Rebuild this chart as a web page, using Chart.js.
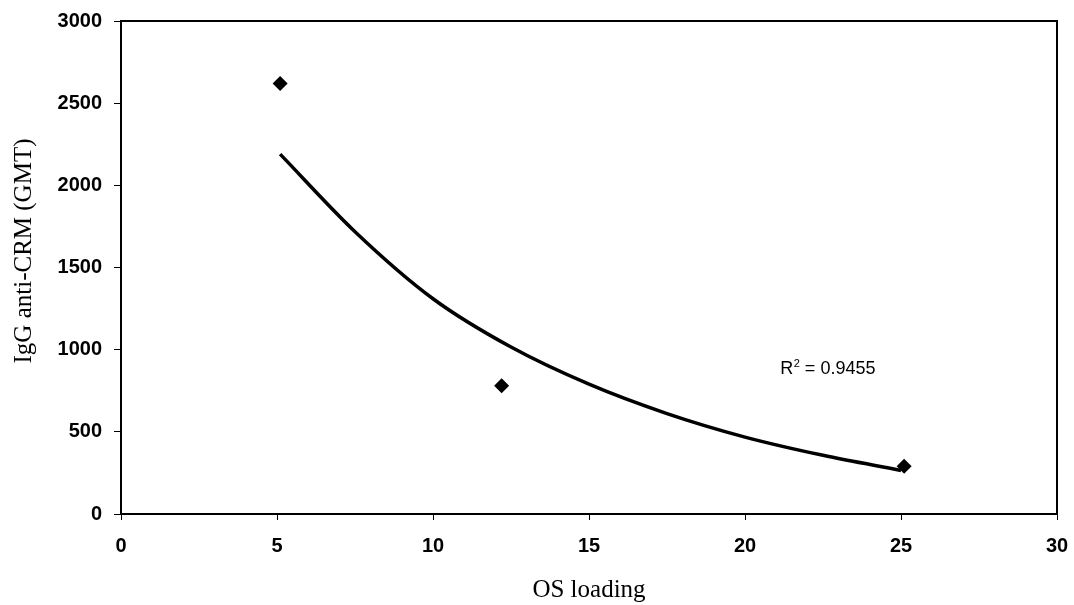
<!DOCTYPE html>
<html><head><meta charset="utf-8">
<script src="https://cdn.jsdelivr.net/npm/chart.js@4"></script>
<style>html,body{margin:0;padding:0;background:#fff;}#wrap{width:1074px;height:605px;position:relative;}</style>
</head><body><div id="wrap"><canvas id="c" width="1074" height="605"></canvas></div>
<script>
// Observed data points
const osLoading = [5.1, 12.2, 25.1];
const iggGMT = [2620, 780, 290];
// Trend curve
const trendX = [5.1, 7.5, 10, 12.5, 15, 17.5, 20, 22.5, 25];
const trendY = [2190, 1718, 1310, 1016, 790, 611, 468, 357, 265];
// Tick labels
const xTicks = [0, 5, 10, 15, 20, 25, 30];
const yTicks = [0, 500, 1000, 1500, 2000, 2500, 3000];
const xTitle = 'OS loading';
const yTitle = 'IgG anti-CRM (GMT)';
const r2Text = '0.9455';
const r2Pos = [21.13, 850];

const pts = osLoading.map((x, i) => ({x: x, y: iggGMT[i]}));
const trend = trendX.map((x, i) => ({x: x, y: trendY[i]}));

const tickFont = {family: '"Liberation Sans", Arial, sans-serif', size: 20, weight: 'bold'};
const titleFont = {family: '"Liberation Serif", "Times New Roman", serif', size: 25, weight: 'normal'};

const framePlugin = {
  id: 'frame',
  afterDraw(chart) {
    const {ctx, chartArea: a, scales} = chart;
    ctx.save();
    ctx.strokeStyle = '#000';
    ctx.lineWidth = 2;
    ctx.beginPath();
    ctx.moveTo(a.left, a.top);
    ctx.lineTo(a.right, a.top);
    ctx.lineTo(a.right, a.bottom);
    ctx.stroke();
    // y axis title (drawn slightly above the plot centre, as in the original)
    ctx.fillStyle = '#000';
    ctx.font = '25px "Liberation Serif", "Times New Roman", serif';
    ctx.textAlign = 'center';
    ctx.textBaseline = 'middle';
    ctx.translate(24, 251);
    ctx.rotate(-Math.PI / 2);
    ctx.fillText(yTitle, 0, 0);
    ctx.setTransform(1, 0, 0, 1, 0, 0);
    // R² annotation
    const px = scales.x.getPixelForValue(r2Pos[0]);
    const py = scales.y.getPixelForValue(r2Pos[1]);
    ctx.textBaseline = 'alphabetic';
    ctx.textAlign = 'left';
    ctx.font = '18px "Liberation Sans", Arial, sans-serif';
    ctx.fillText('R', px, py);
    let w = ctx.measureText('R').width;
    ctx.font = '11px "Liberation Sans", Arial, sans-serif';
    ctx.fillText('2', px + w + 0.5, py - 7);
    w += ctx.measureText('2').width + 0.5;
    ctx.font = '18px "Liberation Sans", Arial, sans-serif';
    ctx.fillText(' = ' + r2Text, px + w, py);
    ctx.restore();
  }
};

new Chart(document.getElementById('c'), {
  type: 'scatter',
  data: {
    datasets: [
      {
        label: 'trend',
        type: 'line',
        data: trend,
        borderColor: '#000',
        borderWidth: 3.5,
        pointRadius: 0,
        fill: false,
        cubicInterpolationMode: 'monotone',
        order: 2
      },
      {
        label: 'IgG anti-CRM',
        data: pts,
        pointStyle: 'rectRot',
        pointRadius: 7.5,
        backgroundColor: '#000',
        borderColor: '#000',
        borderWidth: 0,
        order: 1
      }
    ]
  },
  options: {
    responsive: false,
    animation: false,
    layout: {padding: {left: 0, right: 17, top: 21, bottom: 0}},
    plugins: {legend: {display: false}, tooltip: {enabled: false}},
    scales: {
      x: {
        type: 'linear', min: 0, max: 30,
        afterBuildTicks: s => { s.ticks = xTicks.map(v => ({value: v})); },
        afterFit: s => { s.height = 91; s.paddingLeft = 0; s.paddingRight = 0; },
        ticks: {color: '#000', font: tickFont, padding: 14, maxRotation: 0, autoSkip: false, callback: v => String(v)},
        grid: {display: true, drawOnChartArea: false, drawTicks: true, tickLength: 6, tickColor: '#000', tickWidth: 1},
        border: {display: true, color: '#000', width: 2},
        title: {display: true, text: xTitle, color: '#000', font: titleFont, padding: {top: 0, bottom: 0}}
      },
      y: {
        type: 'linear', min: 0, max: 3000,
        afterBuildTicks: s => { s.ticks = yTicks.map(v => ({value: v})); },
        afterFit: s => { s.width = 121; s.paddingTop = 0; s.paddingBottom = 0; },
        ticks: {color: '#000', font: tickFont, padding: 12, autoSkip: false, callback: v => String(v)},
        grid: {display: true, drawOnChartArea: false, drawTicks: true, tickLength: 7, tickColor: '#000', tickWidth: 1},
        border: {display: true, color: '#000', width: 2},
        title: {display: false}
      }
    }
  },
  plugins: [framePlugin]
});
</script></body></html>
